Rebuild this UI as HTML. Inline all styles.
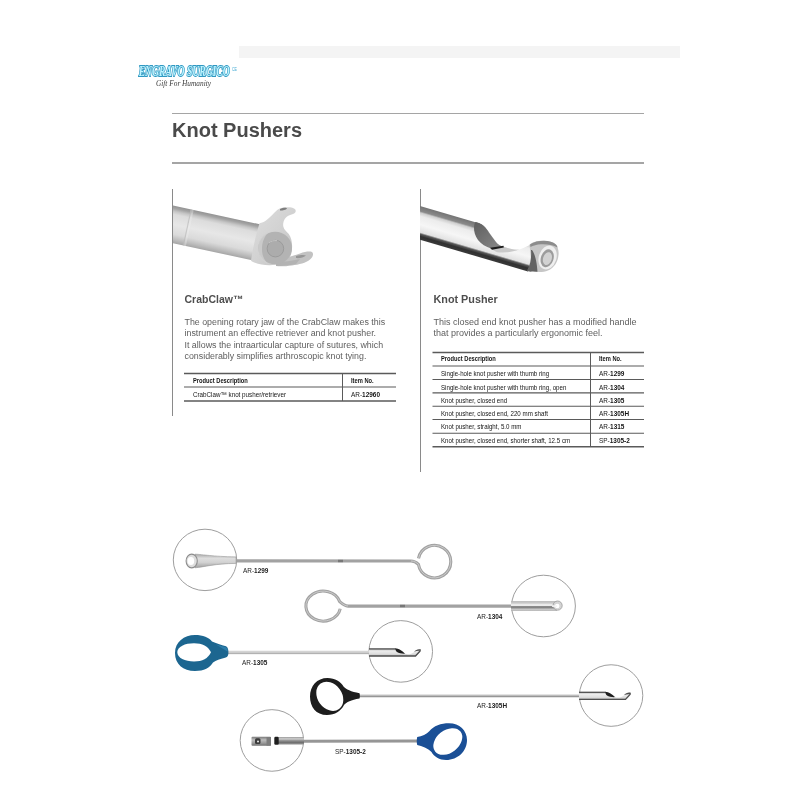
<!DOCTYPE html>
<html><head><meta charset="utf-8">
<style>
*{margin:0;padding:0;box-sizing:border-box}
html,body{width:800px;height:800px;background:#fff;overflow:hidden}
body{filter:blur(0.35px)}
body{position:relative;font-family:"Liberation Sans",sans-serif;color:#555}
.a{position:absolute;white-space:nowrap}
.hl{position:absolute;height:1.5px;background:#a5a5a5}
.vl{position:absolute;width:1px;background:#8a8a8a}
.title{font-weight:bold;font-size:20px;color:#4a4a4a;line-height:1}
.h2{font-weight:bold;font-size:10.3px;color:#4e4e4e;line-height:1}
.desc{font-size:9px;color:#5e5e5e;line-height:11.3px}
.tbl{position:absolute}
.tl{position:absolute;height:1px;background:#6a6a6a}
.tc{position:absolute;font-size:7px;color:#151515;white-space:nowrap;transform-origin:0 0;line-height:1}
.th{font-weight:bold;transform:scaleX(.82)}
.td{transform:scaleX(.88)}
.ti{transform:scaleX(.92)}
.lab{position:absolute;font-size:7.4px;color:#222;white-space:nowrap;line-height:1;transform-origin:0 0;transform:scaleX(.87)}
</style></head><body>

<!-- top gray bar -->
<div class="a" style="left:239px;top:46px;width:441px;height:12px;background:#f4f4f4"></div>

<!-- logo -->
<svg class="a" style="left:130px;top:60px" width="120" height="32" viewBox="0 0 120 32">
  <text x="8.7" y="15.9" font-family="Liberation Serif" font-weight="bold" font-style="italic" font-size="13.8" fill="#bdf4ff" stroke="#2f98c2" stroke-width="1.8" paint-order="stroke" textLength="91" lengthAdjust="spacingAndGlyphs">ENGRAVO SURGICO</text>
  <text x="102" y="11" font-family="Liberation Sans" font-size="5" fill="#4aaed6" textLength="5" lengthAdjust="spacingAndGlyphs">CE</text>
  <text x="26" y="26.2" font-family="Liberation Serif" font-style="italic" font-size="7.6" fill="#3a3a3a" textLength="55" lengthAdjust="spacingAndGlyphs">Gift For Humanity</text>
</svg>

<!-- title lines -->
<div class="hl" style="left:172px;top:112.5px;width:472px"></div>
<div class="a title" style="left:172px;top:120.3px">Knot Pushers</div>
<div class="hl" style="left:172px;top:162.3px;width:472px"></div>

<!-- column verticals -->
<div class="vl" style="left:172px;top:189px;height:227px"></div>
<div class="vl" style="left:420px;top:189px;height:283px"></div>

<!-- CrabClaw image -->
<svg class="a" style="left:173px;top:195px" width="150" height="80" viewBox="173 195 150 80">
  <defs>
    <linearGradient id="cg" x1="0" y1="0" x2="0" y2="1">
      <stop offset="0" stop-color="#939393"/>
      <stop offset="0.07" stop-color="#a3a3a3"/>
      <stop offset="0.15" stop-color="#c6c6c6"/>
      <stop offset="0.23" stop-color="#dcdcdc"/>
      <stop offset="0.5" stop-color="#e7e7e7"/>
      <stop offset="0.76" stop-color="#dadada"/>
      <stop offset="0.9" stop-color="#bdbdbd"/>
      <stop offset="1" stop-color="#a6a6a6"/>
    </linearGradient>
    <linearGradient id="hg" x1="0" y1="0" x2="1" y2="1">
      <stop offset="0" stop-color="#dedede"/>
      <stop offset="0.5" stop-color="#d2d2d2"/>
      <stop offset="1" stop-color="#c2c2c2"/>
    </linearGradient>
  </defs>
  <g transform="translate(173 205.5) rotate(12.2)">
    <rect x="-2" y="0" width="92" height="36.8" fill="url(#cg)"/>
    <rect x="18" y="0" width="1.2" height="36.8" fill="#bcbcbc" opacity=".7"/>
    <rect x="19.2" y="0" width="2" height="36.8" fill="#f0f0f0" opacity=".35"/>
  </g>
  <!-- upper hook + head body -->
  <path d="M259.5,223.2 C262,222.8 264,222 266,220.5 C270,217.5 274,213 277.5,209.8 C280,207.8 284,207.2 288,207.2 C291,207.2 294,207.8 295.3,209.5 C296.3,211.2 295.3,213.3 293,214 C290,214.8 287.5,215.8 285.5,218 C283.5,220.5 282.8,224 283.3,226.5 C284,229.5 286.5,231.8 288.8,234 C291.3,237.5 292.2,242.5 292.1,247 C292,252.5 290.8,256.5 288.5,258.8 C285.5,262 281,264 276,264.8 C268,266 260,264.8 255,262.8 C253,262 251.8,261.4 251,260.5 C253,248 256,234 259.5,223.2 Z" fill="url(#hg)"/>
  <path d="M280,209 C283,207.5 287,207.5 287,208.5 C286,210 283,210.5 280,210.5 Z" fill="#7e7e7e"/>
  <!-- lower jaw -->
  <path d="M276,260 C285,258 293,256 300,253.5 C305,251.5 310,251 312,252 C314,253.5 313,257 310,259.5 C306,263 299,264.5 292,265.5 C285,266.5 279,266.5 276,266 Z" fill="#c2c2c2"/>
  <path d="M296,256 C300,255 304,254.5 306,255.5 C304,257.5 299,258.5 296,258 Z" fill="#969696"/>
  <path d="M276,262 C284,262 292,261 300,259 L296,264 C289,265.5 282,266 276,266 Z" fill="#a8a8a8" opacity=".6"/>
  <!-- end face disc -->
  <ellipse cx="275.2" cy="248" rx="16.8" ry="16.3" fill="#b3b3b3"/>
  <path d="M258.4,248 C258.4,239 263,233 269,232 C264.5,236 262,242 262,249 C262,256 264.5,261 268.5,264 C262.5,262.5 258.4,256.5 258.4,248 Z" fill="#d2d2d2" opacity=".75"/>
  <circle cx="275.4" cy="248.6" r="8.3" fill="#acacac" stroke="#989898" stroke-width=".9"/>
  <path d="M269,243 C271,241 274,240.3 277,240.6" stroke="#cdcdcd" stroke-width=".8" fill="none"/>
</svg>

<!-- Knot pusher image -->
<svg class="a" style="left:420px;top:195px" width="145" height="85" viewBox="420 195 145 85">
  <defs>
    <linearGradient id="kg" x1="0" y1="0" x2="0" y2="1">
      <stop offset="0" stop-color="#747474"/>
      <stop offset="0.15" stop-color="#8a8a8a"/>
      <stop offset="0.2" stop-color="#cfcfcf"/>
      <stop offset="0.3" stop-color="#ececec"/>
      <stop offset="0.55" stop-color="#f6f6f6"/>
      <stop offset="0.78" stop-color="#e2e2e2"/>
      <stop offset="0.83" stop-color="#5a5a5a"/>
      <stop offset="0.9" stop-color="#303030"/>
      <stop offset="1" stop-color="#3a3a3a"/>
    </linearGradient>
    <linearGradient id="kd" x1="0" y1="0" x2="1" y2="1">
      <stop offset="0" stop-color="#5e5e5e"/>
      <stop offset="1" stop-color="#8a8a8a"/>
    </linearGradient>
  </defs>
  <g transform="translate(420 206) rotate(16.4)">
    <rect x="-2" y="0" width="124" height="32.3" fill="url(#kg)"/>
  </g>
  <!-- white mask above scoop -->
  <path d="M475.5,221.5 C479,222 483,224 487,229.5 C490,233.5 493,238 496,242 C498,244.5 500.5,246.2 503.5,246.5 C508,248.3 514,249.8 519,249.4 C524,248.5 530,244.5 536,242 L548,238 L548,212 L475.5,212 Z" fill="#fff"/>
  <!-- dark inner wall -->
  <path d="M475.5,222 C479,222.5 483,224.5 487,230 C490,234 493,238 496,242 C498,244.5 500.5,246.3 503.5,246.5 L491,248.5 C486,247 481,244 478,240 C475,236 473.8,231 474,227 C474.2,224.5 474.8,222.8 475.5,222 Z" fill="url(#kd)"/>
  <path d="M491,249 L503.5,246.6 C508,248.5 514,250 519,249.6 C514,252 505,253 497,252.2 Z" fill="#c9c9c9"/>
  <path d="M490,247.8 L503.5,245.8 L503.8,247.4 L492,249.8 Z" fill="#1c1c1c"/>
  <!-- tip end cap -->
  <path d="M529.5,244.5 C533,242 537,241 541,240.8 C547,240.5 552,241.5 555,244 C558,246.5 559,251 558.5,255 C558,262 554,268 548,270.5 C543,272.5 537,272.5 532.5,271 C531,262 530.5,252 529.5,244.5 Z" fill="#c6c6c6"/>
  <path d="M530,244.5 C534,241.8 539,240.8 544,240.8 C549,240.8 553,242 556,244.5 C557,245.5 557.5,246.5 557.5,247.5 C553,245 547,244 541,244.3 C537,244.6 533,245.5 530.5,247 Z" fill="#8c8c8c"/>
  <ellipse cx="547.6" cy="257.5" rx="8.8" ry="12.2" fill="#efefef" transform="rotate(18 547.6 257.5)"/>
  <ellipse cx="547.2" cy="258.3" rx="6.3" ry="9.2" fill="#9c9c9c" transform="rotate(18 547.2 258.3)"/>
  <ellipse cx="547.4" cy="258.6" rx="4.3" ry="6.6" fill="#d2d2d2" transform="rotate(18 547.4 258.6)"/>
  <path d="M532,250 C535,254 537,262 537.5,271.8 L533,271.5 C530,271.8 527.5,271.6 527,270.5 C531,264 531.5,256 531,250 Z" fill="#626262"/>
</svg>

<!-- CrabClaw text -->
<div class="a h2" style="left:184.5px;top:293.6px;font-size:10.5px">CrabClaw™</div>
<div class="a desc" style="left:184.5px;top:317.2px;font-size:8.85px">The opening rotary jaw of the CrabClaw makes this<br>instrument an effective retriever and knot pusher.<br>It allows the intraarticular capture of sutures, which<br>considerably simplifies arthroscopic knot tying.</div>

<!-- Left table -->
<svg class="a" style="left:0;top:0" width="800" height="500" viewBox="0 0 800 500"><g stroke="#5a5a5a" fill="none"><line x1="184" y1="373.5" x2="396" y2="373.5" stroke-width="1.4"/><line x1="184" y1="387" x2="396" y2="387" stroke-width="1.1"/><line x1="184" y1="401" x2="396" y2="401" stroke-width="1.4"/><line x1="342.5" y1="373.5" x2="342.5" y2="401" stroke-width="1"/><line x1="432.5" y1="352.5" x2="644" y2="352.5" stroke-width="1.4"/><line x1="432.5" y1="366" x2="644" y2="366" stroke-width="1.1"/><line x1="432.5" y1="379.5" x2="644" y2="379.5" stroke-width="1.1"/><line x1="432.5" y1="392.9" x2="644" y2="392.9" stroke-width="1.1"/><line x1="432.5" y1="406.3" x2="644" y2="406.3" stroke-width="1.1"/><line x1="432.5" y1="419.5" x2="644" y2="419.5" stroke-width="1.1"/><line x1="432.5" y1="433.2" x2="644" y2="433.2" stroke-width="1.1"/><line x1="432.5" y1="446.7" x2="644" y2="446.7" stroke-width="1.4"/><line x1="590.5" y1="352.5" x2="590.5" y2="446.7" stroke-width="1"/></g></svg>
<div class="tc th" style="left:193px;top:377px">Product Description</div>
<div class="tc th" style="left:351px;top:377px">Item No.</div>
<div class="tc td" style="left:193px;top:391px;transform:scaleX(.895)">CrabClaw™ knot pusher/retriever</div>
<div class="tc ti" style="left:351px;top:391px">AR-<b>12960</b></div>

<!-- Knot Pusher text -->
<div class="a h2" style="left:433.5px;top:294.3px;font-size:10.8px">Knot Pusher</div>
<div class="a desc" style="left:433.5px;top:317.2px">This closed end knot pusher has a modified handle<br>that provides a particularly ergonomic feel.</div>

<!-- Right table -->
<div class="tc th" style="left:441px;top:355.3px">Product Description</div>
<div class="tc th" style="left:599px;top:355.3px">Item No.</div>
<div class="tc td" style="left:441px;top:370px">Single-hole knot pusher with thumb ring</div>
<div class="tc ti" style="left:599px;top:370px">AR-<b>1299</b></div>
<div class="tc td" style="left:441px;top:383.5px">Single-hole knot pusher with thumb ring, open</div>
<div class="tc ti" style="left:599px;top:383.5px">AR-<b>1304</b></div>
<div class="tc td" style="left:441px;top:397px">Knot pusher, closed end</div>
<div class="tc ti" style="left:599px;top:397px">AR-<b>1305</b></div>
<div class="tc td" style="left:441px;top:410px">Knot pusher, closed end, 220 mm shaft</div>
<div class="tc ti" style="left:599px;top:410px">AR-<b>1305H</b></div>
<div class="tc td" style="left:441px;top:423px">Knot pusher, straight, 5.0 mm</div>
<div class="tc ti" style="left:599px;top:423px">AR-<b>1315</b></div>
<div class="tc td" style="left:441px;top:436.5px">Knot pusher, closed end, shorter shaft, 12.5 cm</div>
<div class="tc ti" style="left:599px;top:436.5px">SP-<b>1305-2</b></div>

<!-- Bottom instruments -->
<svg class="a" style="left:0;top:500px" width="800" height="300" viewBox="0 500 800 300">
  <defs>
    <linearGradient id="rod" x1="0" y1="0" x2="0" y2="1">
      <stop offset="0" stop-color="#8e8e8e"/>
      <stop offset="0.5" stop-color="#d0d0d0"/>
      <stop offset="1" stop-color="#9a9a9a"/>
    </linearGradient>
    <linearGradient id="tube1" x1="0" y1="0" x2="0" y2="1">
      <stop offset="0" stop-color="#a8a8a8"/>
      <stop offset="0.3" stop-color="#dedede"/>
      <stop offset="0.6" stop-color="#d2d2d2"/>
      <stop offset="1" stop-color="#a0a0a0"/>
    </linearGradient>
    <linearGradient id="t5a" x1="0" y1="0" x2="0" y2="1">
      <stop offset="0" stop-color="#9a9a9a"/>
      <stop offset="0.25" stop-color="#d0d0d0"/>
      <stop offset="0.5" stop-color="#8c8c8c"/>
      <stop offset="0.75" stop-color="#6e6e6e"/>
      <stop offset="1" stop-color="#a6a6a6"/>
    </linearGradient>
    <linearGradient id="t5b" x1="0" y1="0" x2="0" y2="1">
      <stop offset="0" stop-color="#7a7a7a"/>
      <stop offset="0.35" stop-color="#bdbdbd"/>
      <stop offset="0.7" stop-color="#9a9a9a"/>
      <stop offset="1" stop-color="#707070"/>
    </linearGradient>
    <linearGradient id="t2" x1="0" y1="0" x2="0" y2="1">
      <stop offset="0" stop-color="#b4b4b4"/>
      <stop offset="0.25" stop-color="#d4d4d4"/>
      <stop offset="0.38" stop-color="#f2f2f2"/>
      <stop offset="0.5" stop-color="#e6e6e6"/>
      <stop offset="0.56" stop-color="#7a7a7a"/>
      <stop offset="0.72" stop-color="#8c8c8c"/>
      <stop offset="0.8" stop-color="#cfcfcf"/>
      <stop offset="1" stop-color="#b0b0b0"/>
    </linearGradient>
    <linearGradient id="tip34" x1="0" y1="0" x2="0" y2="1">
      <stop offset="0" stop-color="#bdbdbd"/>
      <stop offset="0.3" stop-color="#ececec"/>
      <stop offset="0.7" stop-color="#dedede"/>
      <stop offset="1" stop-color="#bcbcbc"/>
    </linearGradient>
    <linearGradient id="tube" x1="0" y1="0" x2="0" y2="1">
      <stop offset="0" stop-color="#777"/>
      <stop offset="0.3" stop-color="#e6e6e6"/>
      <stop offset="0.65" stop-color="#cfcfcf"/>
      <stop offset="1" stop-color="#555"/>
    </linearGradient>
  </defs>
  <g fill="none" stroke="#9e9e9e" stroke-width="1">
    <ellipse cx="205" cy="559.9" rx="31.7" ry="30.7"/>
    <ellipse cx="543.5" cy="606" rx="31.9" ry="30.8"/>
    <ellipse cx="400.75" cy="651.4" rx="31.8" ry="30.8"/>
    <ellipse cx="611.1" cy="695.55" rx="31.7" ry="30.8"/>
    <ellipse cx="271.9" cy="740.45" rx="31.7" ry="30.8"/>
  </g>

  <!-- Instrument 1: AR-1299 -->
  <path d="M236,560.9 L411,561 C414.5,561 416.5,562.5 418.4,564.3 A16.3,16.3 0 1 0 418.5,558.4" stroke="#a2a2a2" stroke-width="3.1" fill="none"/>
  <path d="M411,561 C414.5,561 416.5,562.5 418.4,564.3 A16.3,16.3 0 1 0 418.5,558.4" stroke="#d4d4d4" stroke-width="0.8" fill="none"/>
  <rect x="338" y="559.8" width="5" height="2.4" fill="#777"/>
  <path d="M195,554.2 C203,554.4 212,556.5 236,556.9 L236,563.4 C215,563.6 204,567 195,567.8 Z" fill="url(#tube1)" stroke="#9a9a9a" stroke-width=".6"/>
  <ellipse cx="191.7" cy="561" rx="5.6" ry="6.9" fill="#dedede" stroke="#8e8e8e" stroke-width="1.1"/>
  <ellipse cx="190.9" cy="561.1" rx="3.3" ry="4" fill="#fff"/>

  <!-- Instrument 2: AR-1304 -->
  <path d="M512,606.1 L348,606.1 C345.5,606 343,604.5 339.7,601.6 A17.3,15 0 1 0 340.2,608.8" stroke="#a2a2a2" stroke-width="3.1" fill="none"/>
  <path d="M348,606 C345.5,606 343,604.5 339.7,601.6 A17.3,15 0 1 0 340.2,608.8" stroke="#d4d4d4" stroke-width="0.8" fill="none"/>
  <rect x="400" y="604.8" width="5" height="2.4" fill="#777"/>
  <rect x="511" y="601.1" width="46" height="9.8" fill="url(#t2)"/>
  <circle cx="557.6" cy="605.6" r="4.6" fill="#d4d4d4" stroke="#9a9a9a" stroke-width=".8"/>
  <circle cx="557.2" cy="606" r="2.3" fill="#fff"/>
  <rect x="552" y="605.3" width="5" height="1.6" fill="#f4f4f4"/>

  <!-- Instrument 3: AR-1305 -->
  <path d="M226,652.5 L370,652.5" stroke="#d4d4d4" stroke-width="3.6" fill="none"/><path d="M226,653.4 L370,653.4" stroke="#b2b2b2" stroke-width="1.3" fill="none"/>
  <g transform="translate(369 648.9)">
    <path d="M0,0 L27,0 C31,0 34,3 37,5.2 C40,5.6 43,5 45,3 C46.5,1.2 48.5,0.3 51,0.6 L51.6,2.4 C50,4.5 48,6.5 46.5,7.1 L0,7.1 Z" fill="url(#tip34)"/>
    <path d="M0,0 L27,0" stroke="#4e4e4e" stroke-width="1.3" fill="none"/>
    <path d="M0,7.1 L46.5,7.1 L51.3,1.8" stroke="#4e4e4e" stroke-width="1.3" fill="none"/>
    <path d="M26.5,-0.3 C30.5,-0.3 33.5,2.5 36,4.8 C33,5 30,4.2 28,3.2 C26.8,2.2 26.3,1 26.5,-0.3 Z" fill="#1e1e1e"/>
    <path d="M45,2.8 C46.8,0.8 49,-0.2 51.8,0.4 L51.8,2.2 C50,1.6 47.5,2 45,2.8 Z" fill="#505050"/>
  </g>
  <path d="M195,635 C203,635 209,637.5 212,641.5 C216,643 221,645 226,646.3 C228,647.3 228.6,650 228.4,653.5 C228.2,656 227,657.3 225,657.8 C220,659 216,660.5 213,662.5 C210,667.5 204,671 195,671 C183,671 175,664 175,653 C175,642 184,635 195,635 Z" fill="#1c6690"/>
  <path d="M177.3,652.3 C177.3,646.5 185,643.2 194,643.2 C202.5,643.2 208,646 211,652.3 C208,658.5 202.5,661.5 194,661.5 C185,661.5 177.3,658 177.3,652.3 Z" fill="#fff"/>
  <path d="M216,644.5 L226,647.2 C227.5,648 227.8,650 227.5,651.5 Z" fill="#3a8fc0" opacity=".55"/>

  <!-- Instrument 4: AR-1305H -->
  <path d="M358,696 L580,696" stroke="#c8c8c8" stroke-width="3.2" fill="none"/><path d="M358,696.3 L580,696.3" stroke="#969696" stroke-width="1.3" fill="none"/>
  <g transform="translate(579 692.3)">
    <path d="M0,0 L27,0 C31,0 34,3 37,5.2 C40,5.6 43,5 45,3 C46.5,1.2 48.5,0.3 51,0.6 L51.6,2.4 C50,4.5 48,6.5 46.5,7.1 L0,7.1 Z" fill="url(#tip34)"/>
    <path d="M0,0 L27,0" stroke="#4e4e4e" stroke-width="1.3" fill="none"/>
    <path d="M0,7.1 L46.5,7.1 L51.3,1.8" stroke="#4e4e4e" stroke-width="1.3" fill="none"/>
    <path d="M26.5,-0.3 C30.5,-0.3 33.5,2.5 36,4.8 C33,5 30,4.2 28,3.2 C26.8,2.2 26.3,1 26.5,-0.3 Z" fill="#1e1e1e"/>
    <path d="M45,2.8 C46.8,0.8 49,-0.2 51.8,0.4 L51.8,2.2 C50,1.6 47.5,2 45,2.8 Z" fill="#505050"/>
  </g>
  <path d="M327.5,678 C335,678 341,682 343.5,686.5 C346,689.5 351,691.5 359.5,693.3 C360,695 360,697 359.5,698.5 C351,700 346.5,702 344,705 C341,711 335,715 327,715 C316,715 310,707 310,696.5 C310,686 317,678 327.5,678 Z" fill="#1d1d1d"/>
  <ellipse cx="329.8" cy="696.3" rx="12.2" ry="15.7" fill="#fff" transform="rotate(-36 329.8 696.3)"/>

  <!-- Instrument 5: SP-1305-2 -->
  <path d="M303,741.3 L418,741" stroke="#969696" stroke-width="3" fill="none"/>
  <rect x="278" y="737" width="26" height="7.6" fill="url(#t5a)"/>
  <rect x="251.5" y="736.8" width="19.5" height="9" rx="1" fill="url(#t5b)"/>
  <rect x="266.5" y="737" width="4.5" height="8.6" fill="#7e7e7e"/>
  <rect x="255" y="738.3" width="5.5" height="5.6" rx="1.5" fill="#3a3a3a"/>
  <circle cx="258" cy="741.5" r="1" fill="#eee"/>
  <rect x="274.3" y="736.8" width="4.4" height="8" rx="1.2" fill="#1e1e1e"/>
  <path d="M417.2,737 C422,736 426.5,734.5 429.5,731 C433.5,725.8 441,723.2 449,723.2 C459.5,723.2 467,730.5 467,740 C467,751 458,760 446,760 C439.5,760 434,756.5 431.5,752 C428,748.5 422,746 417.2,745 C416.6,742.5 416.6,739.5 417.2,737 Z" fill="#1a4f96"/>
  <ellipse cx="447.8" cy="741.5" rx="16.1" ry="11.3" fill="#fff" transform="rotate(-38 447.8 741.5)"/>
</svg>

<!-- labels -->
<div class="lab" style="left:242.8px;top:567.3px">AR-<b>1299</b></div>
<div class="lab" style="left:476.5px;top:613px">AR-<b>1304</b></div>
<div class="lab" style="left:242.2px;top:659.3px">AR-<b>1305</b></div>
<div class="lab" style="left:477.4px;top:701.7px">AR-<b>1305H</b></div>
<div class="lab" style="left:335px;top:748px">SP-<b>1305-2</b></div>

</body></html>
